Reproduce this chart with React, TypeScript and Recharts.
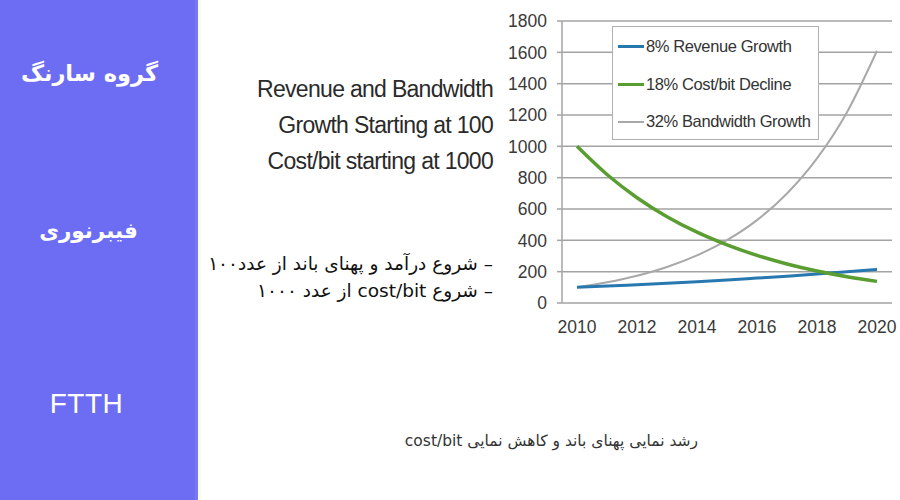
import React from "react";
import { LineChart, Line, XAxis, YAxis, CartesianGrid } from "recharts";

const years = [2010, 2011, 2012, 2013, 2014, 2015, 2016, 2017, 2018, 2019, 2020];
const revenue = [100, 108, 117, 126, 136, 147, 159, 171, 185, 200, 215];
const costBit = [1000, 820, 672, 551, 452, 371, 304, 249, 204, 168, 138];
const bandwidth = [100, 132, 174, 230, 304, 401, 529, 699, 923, 1218, 1610];
const xTicks = [2010, 2012, 2014, 2016, 2018, 2020];
const xMarks = [2009.5, 2011.5, 2013.5, 2015.5, 2017.5, 2019.5, 2020.5];
const yTicks = [0, 200, 400, 600, 800, 1000, 1200, 1400, 1600, 1800];

const seriesNames = ["8% Revenue Growth", "18% Cost/bit Decline", "32% Bandwidth Growth"];
const seriesColors = ["#2878b0", "#5a9e32", "#a8a8a8"];

const data = years.map((y, i) => ({
  year: y,
  revenue: revenue[i],
  cost: costBit[i],
  bandwidth: bandwidth[i],
}));

const sideTitle = "گروه سارنگ";
const sideMid = "فیبرنوری";
const sideBottom = "FTTH";
const titleLines = ["Revenue and Bandwidth", "Growth Starting at 100", "Cost/bit starting at 1000"];
const faLines = ["– شروع درآمد و پهنای باند از عدد۱۰۰", "– شروع cost/bit از عدد ۱۰۰۰"];
const caption = "رشد نمایی  پهنای باند و کاهش نمایی cost/bit";

const LegendBox = () => (
  <div
    style={{
      position: "absolute",
      left: 612,
      top: 26,
      width: 207,
      height: 114,
      background: "#fff",
      border: "1.5px solid #b0b0b0",
      boxSizing: "border-box",
      fontFamily: "'Liberation Sans', Arial, sans-serif",
      fontSize: 16.5,
      color: "#333",
      paddingTop: 1,
    }}
  >
    {seriesNames.map((n, i) => (
      <div key={n} style={{ display: "flex", alignItems: "center", height: 37.5, paddingLeft: 5 }}>
        <div style={{ width: 26, height: i === 2 ? 2 : 3, background: seriesColors[i] }} />
        <span style={{ marginLeft: 2, letterSpacing: -0.4 }}>{n}</span>
      </div>
    ))}
  </div>
);

export default function App() {
  return (
    <div style={{ position: "absolute", left: 0, top: 0, width: 900, height: 500, background: "#fff", overflow: "hidden" }}>
      <div style={{ position: "absolute", left: 0, top: 0, width: 195, height: 500, background: "#6d6df4" }} />
      <div style={{ position: "absolute", left: 195, top: 0, width: 3, height: 500, background: "#7a78f0" }} />
      <div style={{ position: "absolute", left: 198, top: 0, width: 3, height: 500, background: "#fbfbea" }} />
      <div style={{ position: "absolute", left: 0, top: 60, width: 179, textAlign: "center", color: "#fff", fontFamily: "'DejaVu Sans', sans-serif", fontWeight: "bold", fontSize: 22.5, direction: "rtl" }}>{sideTitle}</div>
      <div style={{ position: "absolute", left: 0, top: 218, width: 177, textAlign: "center", color: "#fff", fontFamily: "'DejaVu Sans', sans-serif", fontWeight: "bold", fontSize: 21.5, direction: "rtl" }}>{sideMid}</div>
      <div style={{ position: "absolute", left: 0, top: 388, width: 173, textAlign: "center", color: "#fff", fontFamily: "'Liberation Sans', Arial, sans-serif", fontSize: 28, letterSpacing: 0.5 }}>{sideBottom}</div>

      <div style={{ position: "absolute", left: 200, top: 71, width: 293, textAlign: "right", color: "#2a2a2a", fontFamily: "'Liberation Sans', Arial, sans-serif", fontSize: 23, lineHeight: "36px", letterSpacing: -0.7 }}>
        {titleLines.map((t) => (
          <div key={t}>{t}</div>
        ))}
      </div>
      <div style={{ position: "absolute", left: 190, top: 250, width: 303, textAlign: "right", color: "#111", fontFamily: "'DejaVu Sans', sans-serif", fontSize: 18.5, lineHeight: "27px", direction: "rtl" }}>
        {faLines.map((t) => (
          <div key={t} style={{ textAlign: "right" }}>{t}</div>
        ))}
      </div>
      <div style={{ position: "absolute", left: 360, top: 432, width: 338, textAlign: "right", color: "#333", fontFamily: "'DejaVu Sans', sans-serif", fontSize: 15.5, direction: "rtl" }}>{caption}</div>

      <div style={{ position: "absolute", left: 500, top: 0 }}>
        <LineChart width={400} height={340} data={data} margin={{ top: 21, right: 8, bottom: 7, left: 0 }}>
          <CartesianGrid horizontal vertical={false} stroke="#a3a3a3" strokeWidth={1.5} />
          <XAxis
            xAxisId="marks"
            dataKey="year"
            type="number"
            domain={[2009.5, 2020.5]}
            ticks={xMarks}
            tickFormatter={() => ""}
            height={0}
            tickSize={6}
            axisLine={{ stroke: "#a3a3a3", strokeWidth: 1.5 }}
            tickLine={{ stroke: "#a3a3a3", strokeWidth: 1.5 }}
            allowDataOverflow
          />
          <XAxis
            dataKey="year"
            type="number"
            domain={[2009.5, 2020.5]}
            ticks={xTicks}
            height={30}
            tickSize={0}
            tickMargin={18}
            axisLine={false}
            tickLine={false}
            tick={{ fill: "#3a3a3a", fontSize: 17.5, fontFamily: "'Liberation Sans', Arial, sans-serif" }}
            allowDataOverflow
          />
          <YAxis
            domain={[0, 1800]}
            ticks={yTicks}
            interval={0}
            width={62}
            tickSize={5}
            tickMargin={10}
            axisLine={{ stroke: "#a3a3a3", strokeWidth: 1.5 }}
            tickLine={{ stroke: "#a3a3a3", strokeWidth: 1.5 }}
            tick={{ fill: "#3a3a3a", fontSize: 17.5, fontFamily: "'Liberation Sans', Arial, sans-serif" }}
          />
          <Line type="monotone" dataKey="bandwidth" name={seriesNames[2]} stroke={seriesColors[2]} strokeWidth={2} dot={false} isAnimationActive={false} />
          <Line type="monotone" dataKey="revenue" name={seriesNames[0]} stroke={seriesColors[0]} strokeWidth={3} dot={false} isAnimationActive={false} />
          <Line type="monotone" dataKey="cost" name={seriesNames[1]} stroke={seriesColors[1]} strokeWidth={3.5} dot={false} isAnimationActive={false} />
        </LineChart>
      </div>
      <LegendBox />
    </div>
  );
}
